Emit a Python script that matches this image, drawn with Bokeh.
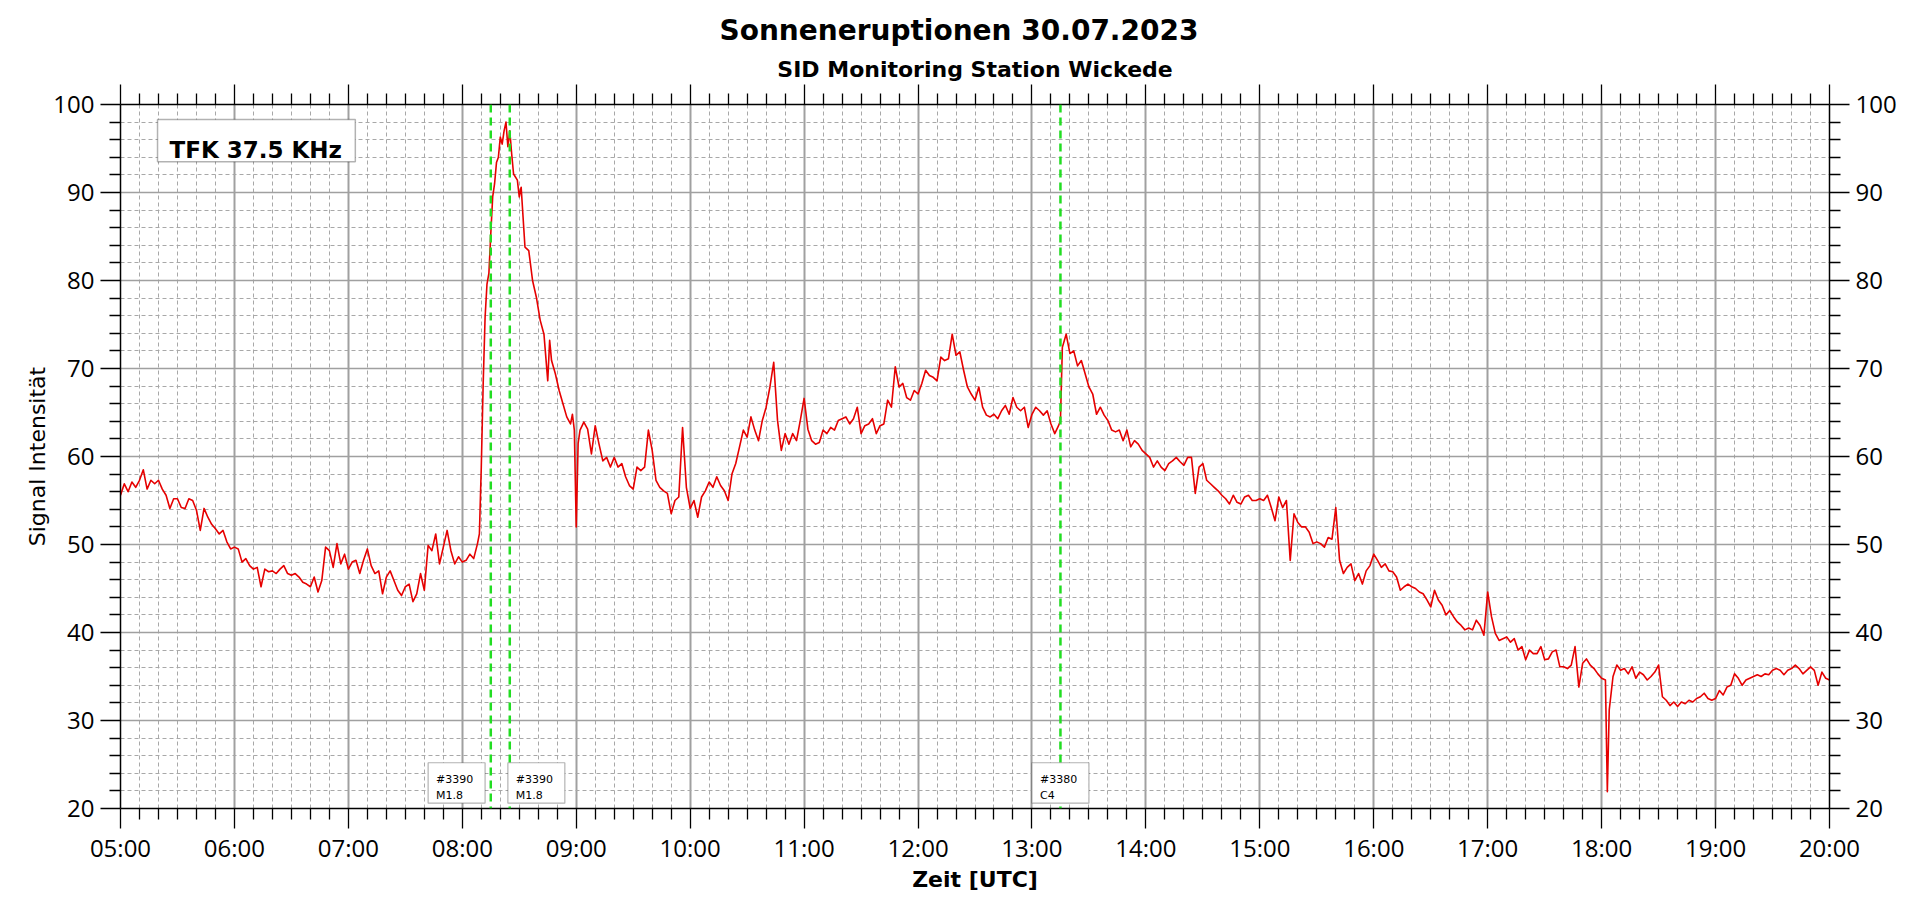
from bokeh.plotting import figure
from bokeh.models import (FixedTicker, LinearAxis, Span, BoxAnnotation, Label, Title, Range1d,
                          CustomLabelingPolicy)
from bokeh.embed import file_html
from bokeh.resources import INLINE

TITLE = "Sonneneruptionen 30.07.2023"
SUBTITLE = "SID Monitoring Station Wickede"
X_LABEL = "Zeit [UTC]"
Y_LABEL = "Signal Intensität"
STATION = "TFK 37.5 KHz"

x_tick_labels = ["05:00", "06:00", "07:00", "08:00", "09:00", "10:00", "11:00", "12:00",
                 "13:00", "14:00", "15:00", "16:00", "17:00", "18:00", "19:00", "20:00"]
y_tick_labels = ["20", "30", "40", "50", "60", "70", "80", "90", "100"]

# flare events (NOAA region, class)
event_times = ["08:15", "08:25", "13:15"]
event_ids = ["#3390", "#3390", "#3380"]
event_classes = ["M1.8", "M1.8", "C4"]
event_box_from = ["07:42", "08:24", "13:00"]


def regular(hh):
    return [f"{hh:02d}:{m:02d}" for m in range(0, 60, 2)]


zeit_05 = regular(5)
sig_05 = [55.6, 56.9, 56.0, 57.1, 56.5, 57.3, 58.5, 56.3, 57.3, 56.9, 57.3, 56.3, 55.6, 54.1, 55.2,
          55.2, 54.2, 54.1, 55.2, 55.0, 53.9, 51.6, 54.1, 53.1, 52.3, 51.8, 51.2, 51.6, 50.3, 49.5]
zeit_06 = regular(6)
sig_06 = [49.7, 49.5, 48.0, 48.4, 47.6, 47.2, 47.4, 45.2, 47.2, 46.9, 47.0, 46.7, 47.2, 47.6, 46.7,
          46.5, 46.7, 46.3, 45.7, 45.5, 45.2, 46.3, 44.6, 45.9, 49.7, 49.3, 47.4, 50.1, 47.8, 48.9]
zeit_07 = regular(7)
sig_07 = [47.2, 48.0, 48.2, 46.7, 48.2, 49.5, 47.6, 46.7, 47.0, 44.4, 46.3, 47.0, 45.9, 44.8, 44.2,
          45.2, 45.5, 43.5, 44.4, 46.7, 44.8, 49.9, 49.3, 51.2, 47.8, 49.7, 51.6, 49.3, 47.8, 48.6]
zeit_08 = ["08:00", "08:02", "08:04", "08:06", "08:08", "08:09", "08:10", "08:11", "08:12", "08:13",
           "08:14", "08:15", "08:16", "08:17", "08:18", "08:19", "08:20", "08:21", "08:22", "08:23",
           "08:24", "08:25", "08:26", "08:27", "08:29", "08:30", "08:31", "08:33", "08:35", "08:37",
           "08:39", "08:41", "08:43", "08:45", "08:46", "08:47", "08:49", "08:51", "08:53", "08:55",
           "08:57", "08:58", "08:59"]
sig_08 = [48.0, 48.2, 48.9, 48.4, 50.1, 51.2, 58.8, 68.3, 75.8, 79.6,
          80.8, 85.3, 89.5, 91.0, 93.4, 94.0, 96.3, 95.5, 97.0, 98.0,
          95.2, 97.0, 94.4, 92.1, 91.4, 89.5, 90.6, 83.8, 83.4, 80.0,
          78.1, 75.5, 73.9, 68.6, 73.2, 70.9, 69.4, 67.5, 66.0, 64.5,
          63.7, 64.8, 63.0]
zeit_09 = ["09:00", "09:01"] + regular(9)[1:]
sig_09 = [52.0, 61.5, 63.0, 63.9, 63.1, 60.3, 63.5, 61.4, 59.5, 59.9, 58.8, 59.9, 58.8, 59.2, 57.7,
          56.7, 56.3, 58.8, 58.4, 58.8, 63.0, 60.7, 57.3, 56.5, 56.1, 55.8, 53.5, 55.0, 55.4, 63.3, 56.5]
zeit_10 = regular(10)
sig_10 = [54.1, 55.0, 53.1, 55.4, 56.1, 57.1, 56.5, 57.7, 56.7, 56.1, 55.0, 58.0, 59.2, 61.1, 63.0,
          62.2, 64.5, 63.0, 61.8, 64.1, 65.6, 67.9, 70.7, 64.1, 60.7, 62.6, 61.4, 62.6, 61.8, 64.1]
zeit_11 = regular(11)
sig_11 = [66.6, 63.1, 61.8, 61.4, 61.6, 63.0, 62.6, 63.3, 63.0, 64.1, 64.3, 64.5, 63.7, 64.3, 65.6,
          62.6, 63.5, 63.7, 64.3, 62.6, 63.5, 63.7, 66.4, 65.6, 70.2, 67.9, 68.3, 66.7, 66.4, 67.5]
zeit_12 = regular(12)
sig_12 = [67.1, 68.3, 69.8, 69.2, 69.0, 68.6, 71.3, 70.9, 71.1, 73.9, 71.5, 71.9, 69.8, 67.9, 67.1,
          66.4, 67.9, 65.6, 64.7, 64.5, 64.8, 64.3, 65.2, 65.8, 64.8, 66.7, 65.6, 65.2, 65.6, 63.3]
zeit_13 = ["13:00", "13:02", "13:04", "13:06", "13:08", "13:10", "13:12", "13:14", "13:15"] + regular(13)[8:]
sig_13 = [64.8, 65.6, 65.2, 64.7, 65.2, 63.7, 62.6, 63.5, 64.1,
          72.4, 73.9, 71.7, 72.0, 70.3, 70.9, 69.4, 67.9, 67.1, 64.8, 65.6,
          64.7, 64.1, 63.0, 62.8, 63.0, 61.8, 63.0, 61.1, 61.8, 61.4, 60.7]
zeit_14 = regular(14)
sig_14 = [60.3, 59.9, 58.8, 59.5, 58.8, 58.4, 59.2, 59.5, 59.9, 59.4, 59.0, 59.9, 59.9, 55.8, 58.8,
          59.2, 57.3, 56.9, 56.5, 56.1, 55.6, 55.2, 54.6, 55.6, 54.8, 54.6, 55.4, 55.6, 55.0, 55.0]
zeit_15 = regular(15)
sig_15 = [55.2, 55.0, 55.6, 54.2, 52.7, 55.4, 54.2, 55.0, 48.2, 53.5, 52.5, 52.0, 52.0, 51.4, 50.1,
          50.3, 50.1, 49.7, 50.8, 50.6, 54.2, 48.2, 46.7, 47.4, 47.8, 45.9, 46.7, 45.5, 47.0, 47.6]
zeit_16 = regular(16)
sig_16 = [48.9, 48.2, 47.4, 47.8, 47.0, 46.9, 46.3, 44.8, 45.2, 45.5, 45.2, 45.0, 44.6, 44.4, 43.7,
          42.9, 44.8, 43.7, 43.1, 42.0, 42.5, 41.8, 41.2, 40.8, 40.3, 40.5, 40.3, 41.4, 40.8, 39.7]
zeit_17 = regular(17)
sig_17 = [44.6, 41.8, 39.9, 39.1, 39.3, 39.5, 38.9, 39.3, 38.0, 38.4, 36.9, 38.0, 37.6, 37.6, 38.4,
          36.9, 37.0, 37.8, 38.0, 36.1, 36.1, 35.9, 36.3, 38.4, 33.8, 36.5, 37.0, 36.3, 35.9, 35.3]
zeit_18 = ["18:00", "18:02", "18:03"] + regular(18)[2:]
sig_18 = [34.8, 34.6, 21.9, 31.2, 35.0, 36.3, 35.7, 35.9, 35.3, 36.1, 34.8, 35.5, 35.2, 34.6, 35.0,
          35.5, 36.3, 32.7, 32.3, 31.7, 32.1, 31.6, 32.1, 31.9, 32.3, 32.1, 32.5, 32.7, 33.1, 32.5, 32.3]
zeit_19 = regular(19) + ["20:00"]
sig_19 = [32.5, 33.4, 32.9, 33.8, 34.0, 35.3, 34.8, 34.0, 34.6, 34.8, 35.0, 35.2, 35.0, 35.3, 35.2,
          35.7, 35.9, 35.7, 35.2, 35.7, 35.9, 36.3, 35.9, 35.3, 35.7, 36.1, 35.7, 34.0, 35.5, 34.8, 34.6]

zeit = (zeit_05 + zeit_06 + zeit_07 + zeit_08 + zeit_09 + zeit_10 + zeit_11 + zeit_12 +
        zeit_13 + zeit_14 + zeit_15 + zeit_16 + zeit_17 + zeit_18 + zeit_19)
signal = (sig_05 + sig_06 + sig_07 + sig_08 + sig_09 + sig_10 + sig_11 + sig_12 +
          sig_13 + sig_14 + sig_15 + sig_16 + sig_17 + sig_18 + sig_19)


def hrs(t):
    h, m = t.split(":")
    return int(h) + int(m) / 60.0


x = [hrs(t) for t in zeit]
n = min(len(x), len(signal))
x, y = x[:n], signal[:n]

x_ticks = [hrs(t) for t in x_tick_labels]
x_minor = [x_ticks[0] + k / 6.0 for k in range(int((x_ticks[-1] - x_ticks[0]) * 6) + 1) if k % 6 != 0]
y_ticks = [float(v) for v in y_tick_labels]
y_minor = [v for v in range(int(y_ticks[0]), int(y_ticks[-1]) + 1, 2) if v % 10 != 0]

TICK_FONT = "Open Sans"
TEXT_FONT = "DejaVu Sans"

p = figure(width=None, height=None, frame_width=1709, frame_height=704,
           output_backend="svg", toolbar_location=None,
           x_range=Range1d(x_ticks[0], x_ticks[-1]), y_range=Range1d(y_ticks[0], y_ticks[-1]),
           min_border_left=120, min_border_right=91, min_border_top=104, min_border_bottom=94,
           title=TITLE, background_fill_color="white", border_fill_color="white",
           outline_line_color=None)

p.title.align = "left"
p.title.offset = 599
p.title.standoff = 12
p.title.text_font = TEXT_FONT
p.title.text_font_size = "28px"
p.title.text_font_style = "bold"
p.title.text_color = "black"


def style_axis(ax, labels=True):
    ax.axis_line_color = "black"
    ax.axis_line_width = 1.5
    ax.major_tick_line_color = "black"
    ax.major_tick_line_width = 1.3
    ax.minor_tick_line_color = "black"
    ax.minor_tick_line_width = 1.3
    ax.major_tick_out = 20
    ax.major_tick_in = 0
    ax.minor_tick_out = 11
    ax.minor_tick_in = 0
    ax.major_label_text_font = TICK_FONT
    ax.major_label_text_color = "black"
    ax.major_label_text_font_size = "24px"
    ax.major_label_standoff = 6
    if not labels:
        # tick marks only: no label text is drawn and no space is reserved for it
        ax.major_label_standoff = 0
        ax.major_label_text_font_size = "0px"
        ax.major_label_policy = CustomLabelingPolicy(
            code="const all = [...indices]; for (const i of all) indices.unset(i); return indices")


xt = FixedTicker(ticks=x_ticks, minor_ticks=x_minor)
yt = FixedTicker(ticks=y_ticks, minor_ticks=y_minor)
x_over = {int(v): lab for v, lab in zip(x_ticks, x_tick_labels)}

xb = p.xaxis[0]
xb.ticker = xt
xb.major_label_overrides = x_over
style_axis(xb)
xb.major_label_standoff = 2
xb.axis_label = X_LABEL
xb.axis_label_text_font = TEXT_FONT
xb.axis_label_text_font_size = "22px"
xb.axis_label_text_font_style = "bold"
xb.axis_label_text_color = "black"
xb.axis_label_standoff = 0

yl = p.yaxis[0]
yl.ticker = yt
style_axis(yl)
yl.axis_label = Y_LABEL
yl.axis_label_text_font = TEXT_FONT
yl.axis_label_text_font_size = "22px"
yl.axis_label_text_font_style = "normal"
yl.axis_label_text_color = "black"
yl.axis_label_standoff = 0

yr = LinearAxis(ticker=yt)
style_axis(yr)
p.add_layout(yr, "right")

xa = LinearAxis(ticker=xt)
style_axis(xa, labels=False)
p.add_layout(xa, "above")

p.add_layout(Title(text=SUBTITLE, align="center", standoff=5, text_font=TEXT_FONT,
                   text_font_size="22px", text_font_style="bold", text_color="black"), "above")

p.xgrid.grid_line_color = "#a0a0a0"
p.xgrid.grid_line_width = 2
p.xgrid.minor_grid_line_color = "#a8a8a8"
p.xgrid.minor_grid_line_width = 1
p.xgrid.minor_grid_line_dash = "4 3"
p.ygrid.grid_line_color = "#a0a0a0"
p.ygrid.grid_line_width = 1.5
p.ygrid.minor_grid_line_color = "#a8a8a8"
p.ygrid.minor_grid_line_width = 1
p.ygrid.minor_grid_line_dash = "4 3"

p.line(x, y, line_color="#e60000", line_width=1.6, line_join="round")

for t in event_times:
    p.add_layout(Span(location=hrs(t), dimension="height", line_color="#22dd22",
                      line_width=2.5, line_dash="8 5"))

for start, eid, ecls in zip(event_box_from, event_ids, event_classes):
    left = hrs(start)
    p.add_layout(BoxAnnotation(left=left, right=left + 0.5, bottom=20.6, top=25.2,
                               fill_color="white", fill_alpha=1.0,
                               line_color="black", line_width=1.2))
    p.add_layout(Label(x=left, y=23.3, x_offset=8, text=eid, text_font=TEXT_FONT,
                       text_font_size="11px", text_color="black", text_baseline="alphabetic"))
    p.add_layout(Label(x=left, y=21.5, x_offset=8, text=ecls, text_font=TEXT_FONT,
                       text_font_size="11px", text_color="black", text_baseline="alphabetic"))

p.add_layout(BoxAnnotation(left=5.325, right=7.061, bottom=93.5, top=98.3,
                           fill_color="white", fill_alpha=1.0,
                           line_color="black", line_width=1.5))
p.add_layout(Label(x=5.325, y=94.8, x_offset=12, text=STATION, text_font=TEXT_FONT,
                   text_font_size="23px", text_font_style="bold", text_color="black",
                   text_baseline="alphabetic"))

open("out.html", "w").write(file_html(p, INLINE))
